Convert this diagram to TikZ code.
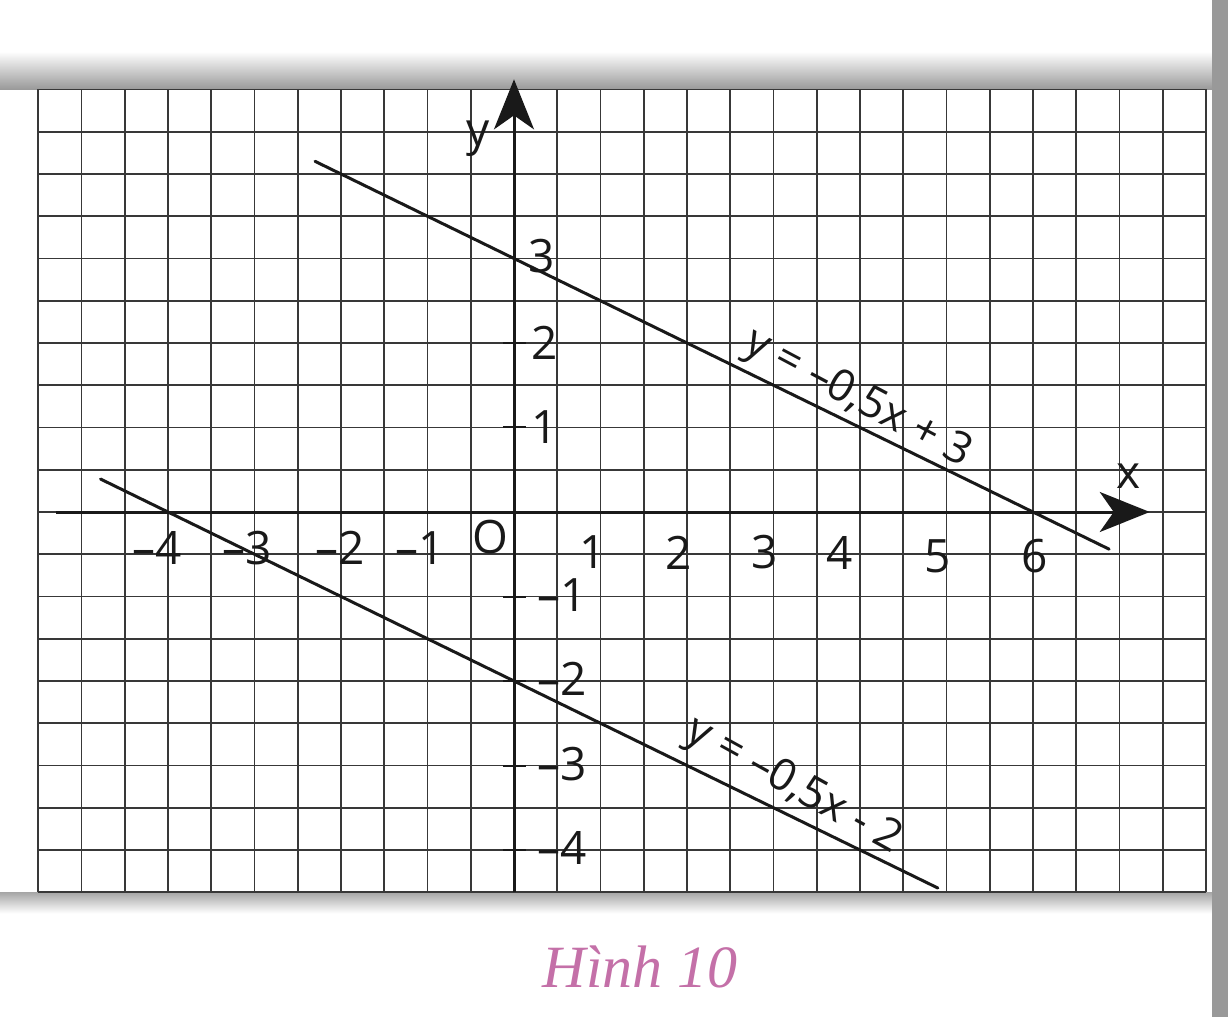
\documentclass[tikz,border=0pt]{standalone}
\usepackage{fontspec}
\setmainfont{Open Sans}
\newfontfamily\capfont{Liberation Serif}
\usetikzlibrary{arrows.meta}
\definecolor{gridc}{gray}{0.22}
\definecolor{inkc}{gray}{0.1}
\definecolor{capc}{RGB}{196,112,168}
\begin{document}
\begin{tikzpicture}[x=86.5pt,y=84.5pt,
  gridline/.style={draw=gridc,line width=1.7pt},
  axisline/.style={line width=3pt,draw=inkc,-{Stealth[length=50pt,width=40pt,inset=14pt]}},
  graphline/.style={line width=3pt,draw=inkc,line cap=round},
  tickline/.style={line width=2pt,draw=inkc},
  lbl/.style={font=\fontsize{46}{50}\selectfont,text=inkc,inner sep=0pt},
  eqlbl/.style={font=\fontsize{44}{48}\selectfont,text=inkc,inner sep=0pt},
  caplbl/.style={font=\capfont\itshape\fontsize{60}{64}\selectfont,text=capc,inner sep=0pt}
]
\useasboundingbox (-514pt,-505pt) rectangle (714pt,512pt);
% paper shadows
\shade[top color=white,bottom color=black!40] (-514pt,5.0) rectangle (714pt,5.45);
\shade[top color=black!35,bottom color=white] (-514pt,-4.5) rectangle (714pt,-4.75);
\fill[black!40] (698pt,-505pt) rectangle (714pt,512pt);
% grid
\draw[gridline] (-5.5,-4.5) grid[xstep=0.5,ystep=0.5] (8,5);
% axes
\coordinate (xs) at (-5.3,0);
\coordinate (xe) at (7.35,0);
\coordinate (ys) at (0,-4.5);
\coordinate (ye) at (0,5.12);
\draw[axisline] (xs) -- (xe);
\draw[axisline] (ys) -- (ye);
\node[lbl] (lx) at (7.1,0.42) {x};
\node[lbl] (ly) at (-0.42,4.42) {y};
\node[lbl] (lo) at (-0.27,-0.3) {O};
% x tick labels
\node[lbl] (xm4) at (-4.12,-0.43) {–4};
\node[lbl] (xm3) at (-3.09,-0.43) {–3};
\node[lbl] (xm2) at (-2.01,-0.43) {–2};
\node[lbl] (xm1) at (-1.08,-0.43) {–1};
\node[lbl] (xp1) at (0.91,-0.47) {1};
\node[lbl] (xp2) at (1.9,-0.48) {2};
\node[lbl] (xp3) at (2.9,-0.48) {3};
\node[lbl] (xp4) at (3.77,-0.48) {4};
\node[lbl] (xp5) at (4.9,-0.52) {5};
\node[lbl] (xp6) at (6.02,-0.52) {6};
% y ticks and labels
\foreach \k in {1,2,-1,-2,-3,-4}{
  \coordinate (tl\k) at (-0.13,\k);
  \coordinate (tr\k) at (0.14,\k);
  \draw[tickline] (tl\k) -- (tr\k);
}
\node[lbl,anchor=west] (yp3) at (0.17,3.03) {3};
\node[lbl,anchor=west] (yp2) at (0.2,2.0) {2};
\node[lbl,anchor=west] (yp1) at (0.2,1.0) {1};
\node[lbl,anchor=west] (ym1) at (0.27,-0.98) {–1};
\node[lbl,anchor=west] (ym2) at (0.27,-1.98) {–2};
\node[lbl,anchor=west] (ym3) at (0.27,-2.98) {–3};
\node[lbl,anchor=west] (ym4) at (0.27,-3.98) {–4};
% graphs
\coordinate (a1) at (-2.3,4.15);
\coordinate (a2) at (6.88,-0.44);
\coordinate (b1) at (-4.78,0.39);
\coordinate (b2) at (4.9,-4.45);
\draw[graphline] (a1) -- (a2);
\draw[graphline] (b1) -- (b2);
\node[eqlbl,rotate=-28] (eq1) at (3.97,1.33) {y = –0,5x + 3};
\node[eqlbl,rotate=-29] (eq2) at (3.23,-3.25) {y = –0,5x - 2};
% caption
\node[caplbl] (cap) at (1.46,-5.38) {Hình 10};
\end{tikzpicture}
\end{document}
